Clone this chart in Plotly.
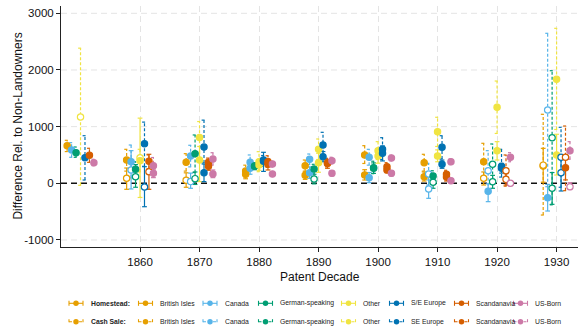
import plotly.graph_objects as go

# Patent decades (1850s only have cash sales; the Homestead Act starts in the 1860s)
decades = [1850, 1860, 1870, 1880, 1890, 1900, 1910, 1920, 1930]
decade_ticks = [1860, 1870, 1880, 1890, 1900, 1910, 1920, 1930]
y_ticks = [-1000, 0, 1000, 2000, 3000]
y_tick_text = ["-1000", "0", "1000", "2000", "3000"]

origins = ["British Isles", "Canada", "German-speaking", "Other",
           "S/E Europe", "Scandanavia", "US-Born"]
cash_names = ["British Isles", "Canada", "German-speaking", "Other",
              "SE Europe", "Scandanavia", "US-Born"]
colors = ["#E69F00", "#56B4E9", "#009E73", "#F0E442",
          "#0072B2", "#D55E00", "#CC79A7"]

# Cash-sale estimates and 95% CI bounds, one row per origin group
cash_est = [
    [664, 411, 370, 217, 311, 500, 364, 381, 320],
    [588, 381, 482, 371, 423, 459, 164, 222, 1294],
    [540, 247, 523, 305, 252, 275, 129, 335, 805],
    [1170, 400, 810, 381, 600, 576, 911, 1341, 1835],
    [452, 700, 640, 390, 676, 600, 635, 300, 459],
    [494, 390, 370, 381, 364, 293, 160, 222, 459],
    [364, 311, 429, 341, 399, 447, 381, 459, 576],
]
cash_lo = [
    [560, 215, 215, 110, 200, 350, 215, 50, -560],
    [459, 95, 290, 240, 330, 320, -30, -130, -60],
    [459, 100, 190, 250, 170, 170, 35, -20, -380],
    [-35, 200, 530, 205, 420, 420, 650, 880, 950],
    [58, 300, 360, 300, 450, 420, 430, 110, -70],
    [370, 260, 300, 280, 290, 200, 70, -50, -130],
    [311, 170, 320, 290, 340, 400, 330, 380, 424],
]
cash_hi = [
    [759, 600, 523, 320, 411, 664, 512, 706, 1218],
    [717, 676, 671, 500, 517, 600, 353, 576, 2647],
    [641, 380, 853, 360, 335, 390, 222, 694, 1987],
    [2385, 600, 1090, 558, 782, 735, 1165, 1805, 2735],
    [840, 1080, 1115, 490, 900, 805, 840, 600, 988],
    [618, 500, 445, 487, 441, 364, 230, 500, 1011],
    [424, 455, 540, 390, 460, 495, 430, 540, 735],
]

# Homestead estimates and 95% CI bounds
home_est = [
    [None, 88, 55, 160, 141, 147, 117, 88, 305],
    [None, 235, 30, 265, 187, 99, -100, -141, -254],
    [None, 117, 82, 300, 76, 265, 18, 28, -88],
    [None, 450, 411, 323, 364, 482, 482, 576, 500],
    [None, -65, 187, 411, 470, 529, 335, 265, 187],
    [None, 205, 300, 335, 350, 235, 110, 70, 275],
    [None, 176, 165, 164, 176, 176, 46, 0, -60],
]
home_lo = [
    [None, -106, -70, 80, 70, 58, 40, -30, 20],
    [None, -100, -88, 160, 88, 11, -265, -324, -489],
    [None, -70, -20, 240, -10, 175, -88, -88, -371],
    [None, -250, 30, 230, 195, 355, 380, 411, 146],
    [None, -413, 30, 210, 380, 395, 265, 180, -136],
    [None, -106, 230, 235, 265, 187, 40, -30, 60],
    [None, 100, 100, 130, 130, 130, 10, -40, -110],
]
home_hi = [
    [None, 270, 185, 240, 215, 240, 200, 200, 617],
    [None, 576, 180, 370, 290, 190, 60, -10, -20],
    [None, 330, 200, 355, 160, 360, 120, 140, 190],
    [None, 1150, 650, 420, 530, 610, 590, 735, 865],
    [None, 293, 340, 547, 560, 660, 410, 350, 480],
    [None, 512, 370, 430, 420, 290, 180, 170, 500],
    [None, 250, 235, 200, 220, 220, 85, 40, 10],
]

FONT = "Liberation Sans, Arial, Helvetica, sans-serif"
DASH = "3px,2px"
GRID = "#e4e4e4"
dodge = 0.75   # horizontal spacing between origin groups (years)
cap = 0.4      # half-width of CI caps (years)

fig = go.Figure()

series = []
for i in range(len(origins)):
    series.append((i, home_est[i], home_lo[i], home_hi[i], "solid"))
    series.append((i, cash_est[i], cash_lo[i], cash_hi[i], DASH))

# confidence intervals with caps
for i, est, lo, hi, dash in series:
    off = (i - 3) * dodge
    xs, ys = [], []
    for d, e, l, h in zip(decades, est, lo, hi):
        if e is None:
            continue
        x = d + off
        xs += [x, x, None, x - cap, x + cap, None, x - cap, x + cap, None]
        ys += [l, h, None, l, l, None, h, h, None]
    fig.add_trace(go.Scatter(
        x=xs, y=ys, mode="lines", xaxis="x", yaxis="y",
        line=dict(color=colors[i], width=1.2, dash=dash),
        hoverinfo="skip", showlegend=False))

# point estimates: hollow when the interval covers zero
for i, est, lo, hi, dash in series:
    off = (i - 3) * dodge
    xs, ys, fills = [], [], []
    for d, e, l, h in zip(decades, est, lo, hi):
        if e is None:
            continue
        xs.append(d + off)
        ys.append(e)
        fills.append("white" if (l <= 0 <= h) else colors[i])
    fig.add_trace(go.Scatter(
        x=xs, y=ys, mode="markers", xaxis="x", yaxis="y",
        marker=dict(size=6.3, color=fills, line=dict(color=colors[i], width=1.2)),
        showlegend=False))

# legend drawn on its own pixel-unit axes below the plot
leg_cols = [76, 145.5, 210, 265.5, 348.5, 396.5, 461.5, 520.5]
leg_rows = [303.3, 321.7]
row_labels = [["<b>Homestead:</b>"] + origins, ["<b>Cash Sale:</b>"] + cash_names]
row_dash = ["solid", DASH]
row_colors = [colors[0]] + colors
annotations = []
hw = 7
for r, ry in enumerate(leg_rows):
    for c, cx in enumerate(leg_cols):
        col = row_colors[c]
        fig.add_trace(go.Scatter(
            x=[cx - hw, cx + hw, None, cx - hw, cx - hw, None, cx + hw, cx + hw],
            y=[ry, ry, None, ry - 2.5, ry + 2.5, None, ry - 2.5, ry + 2.5],
            mode="lines", xaxis="x2", yaxis="y2", cliponaxis=False,
            line=dict(color=col, width=1.1, dash=row_dash[r]),
            hoverinfo="skip", showlegend=False))
        fig.add_trace(go.Scatter(
            x=[cx], y=[ry], mode="markers", xaxis="x2", yaxis="y2", cliponaxis=False,
            marker=dict(size=5.5, color=col), hoverinfo="skip", showlegend=False))
        annotations.append(dict(
            x=cx + 12.5, y=ry, xref="x2", yref="y2", text=row_labels[r][c],
            showarrow=False, xanchor="left", yanchor="middle",
            font=dict(family=FONT, size=6.8, color="#222")))

# axis titles
annotations.append(dict(
    x=0.5, y=277, xref="paper", yref="y2", text="Patent Decade",
    showarrow=False, xanchor="center", yanchor="middle",
    font=dict(family=FONT, size=12, color="#111")))
annotations.append(dict(
    x=-0.085, y=0.5, xref="paper", yref="y domain", text="Difference Rel. to Non-Landowners",
    textangle=-90, showarrow=False, xanchor="center", yanchor="middle",
    font=dict(family=FONT, size=12, color="#111")))

# horizontal grid lines as shapes so the dashed zero line can sit on top of them
shapes = []
for v in y_ticks:
    if v == 0:
        continue
    shapes.append(dict(type="line", xref="x domain", yref="y", x0=0, x1=1, y0=v, y1=v,
                       line=dict(color=GRID, width=1, dash="6px,4px"), layer="below"))
shapes.append(dict(type="line", xref="x domain", yref="y", x0=0, x1=1, y0=0, y1=0,
                   line=dict(color="#111", width=1.5, dash="6px,4px"), layer="below"))

axis_style = dict(
    showline=True, linecolor="#222", linewidth=1,
    ticks="outside", ticklen=4, tickcolor="#222", tickwidth=1,
    zeroline=False, tickfont=dict(family=FONT, size=11.5, color="#111"),
)

plot_h = 322
fig.update_layout(
    width=586, height=328,
    margin=dict(l=61, r=8, t=6, b=0),
    paper_bgcolor="white", plot_bgcolor="white",
    showlegend=False,
    xaxis=dict(domain=[0, 1], range=[1846.72, 1933.6], anchor="y",
               tickvals=decade_ticks, ticktext=[str(d) for d in decade_ticks],
               showgrid=True, gridcolor=GRID, gridwidth=1, griddash="6px,4px",
               **axis_style),
    yaxis=dict(domain=[81 / plot_h, 1], range=[-1124, 3129], anchor="x",
               tickvals=y_ticks, ticktext=y_tick_text, showgrid=False, **axis_style),
    xaxis2=dict(domain=[0, 1], range=[61, 578], anchor="y2", visible=False),
    yaxis2=dict(domain=[0, 81 / plot_h], range=[328, 247], anchor="x2", visible=False),
    annotations=annotations,
    shapes=shapes,
)

fig.write_html("out.html")
